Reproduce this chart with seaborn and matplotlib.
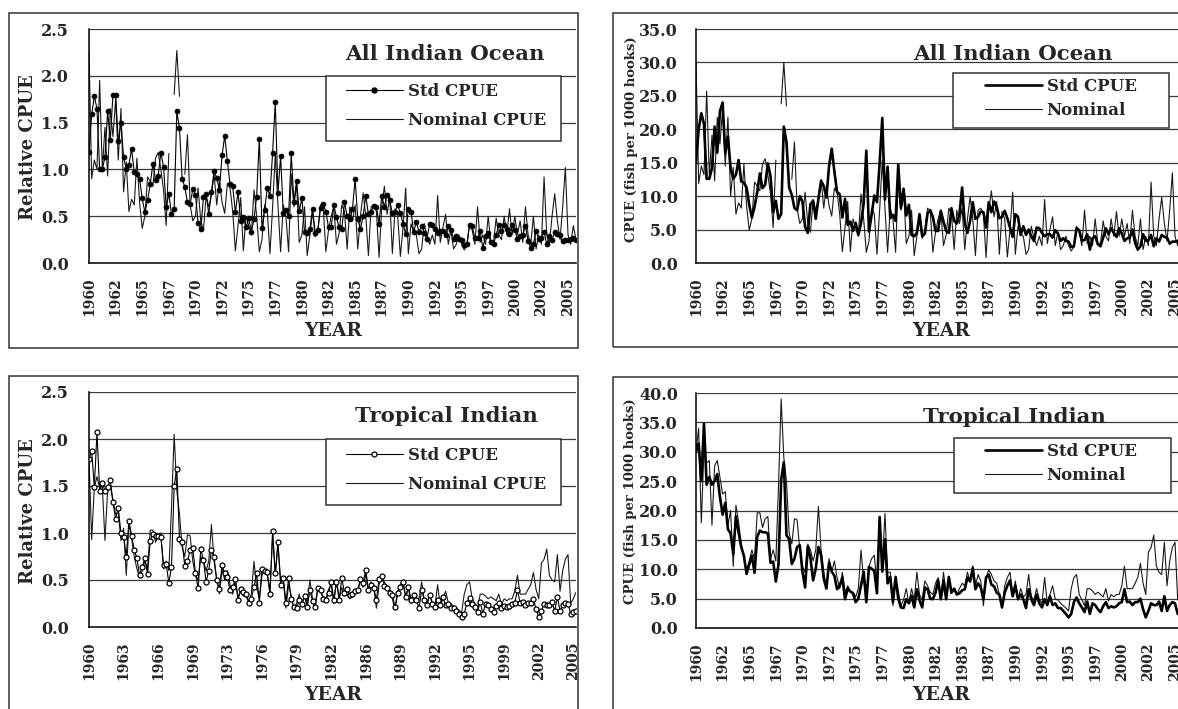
import numpy as np
import pandas as pd
import matplotlib
matplotlib.use("Agg")
import matplotlib.pyplot as plt
import seaborn as sns
from matplotlib.lines import Line2D
from matplotlib.patches import Rectangle

# ---------------------------------------------------------------- data
# Quarterly series, 1960 Q1 .. 2005 Q4 (184 quarters); NaN = no data.
nan = np.nan

all_rel_std = [
    1.19, 1.59, 1.78, 1.65, 1.00, 1.00, 1.13, 1.62, 1.31, 1.80, 1.80, 1.30,
    1.50, 1.13, 1.00, 1.05, 1.22, 0.97, 0.95, 0.90, 0.69, 0.54, 0.67, 0.84,
    1.06, 0.89, 0.93, 1.18, 1.03, 0.60, 0.74, 0.52, 0.58, 1.62, 1.44, 0.90,
    0.81, 0.65, 0.63, 0.79, 0.73, 0.43, 0.36, 0.70, 0.74, 0.52, 0.76, 0.98,
    0.91, 0.78, 1.15, 1.36, 1.09, 0.84, 0.82, 0.54, 0.76, 0.45, 0.49, 0.38,
    0.48, 0.33, 0.47, 0.71, 1.33, 0.37, 0.57, 0.80, 0.72, 1.18, 1.72, 0.75,
    1.14, 0.53, 0.57, 0.50, 1.17, 0.65, 0.88, 0.56, 0.69, 0.33, 0.32, 0.36,
    0.58, 0.32, 0.35, 0.59, 0.63, 0.55, 0.38, 0.38, 0.62, 0.49, 0.38, 0.36,
    0.65, 0.50, 0.47, 0.58, 0.90, 0.47, 0.36, 0.50, 0.72, 0.52, 0.55, 0.61,
    0.60, 0.42, 0.72, 0.60, 0.73, 0.67, 0.53, 0.55, 0.62, 0.53, 0.42, 0.31,
    0.58, 0.55, 0.33, 0.44, 0.33, 0.40, 0.32, 0.26, 0.42, 0.41, 0.36, 0.32,
    0.34, 0.34, 0.30, 0.39, 0.35, 0.26, 0.29, 0.26, 0.25, 0.19, 0.20, 0.41,
    0.39, 0.27, 0.27, 0.34, 0.16, 0.29, 0.32, 0.22, 0.20, 0.30, 0.41, 0.34,
    0.41, 0.36, 0.31, 0.41, 0.35, 0.26, 0.29, 0.30, 0.40, 0.24, 0.16, 0.20,
    0.34, 0.26, 0.27, 0.33, 0.20, 0.29, 0.25, 0.33, 0.31, 0.30, 0.23, 0.25,
    0.25, 0.26, 0.27, 0.25,
]

all_rel_nominal = [
    2.27, 0.90, 1.10, 1.00, 1.95, 1.00, 1.45, 0.93, 1.65, 1.35, 1.75, 1.10,
    1.65, 0.76, 1.08, 0.55, 0.68, 0.62, 1.12, 0.65, 0.37, 0.50, 0.92, 0.87,
    0.82, 1.12, 1.18, 1.00, 0.78, 0.40, 1.17, nan, 1.80, 2.27, 1.78, nan,
    0.95, 1.37, 0.62, 0.45, 0.50, 0.80, 0.45, 0.35, 0.72, 0.60, 0.72, 0.95,
    0.62, 0.87, 0.65, 0.53, 0.85, 0.80, 0.55, 0.13, 0.40, 0.70, 0.13, 0.50,
    0.40, 0.30, 0.78, 0.50, 0.12, 0.25, 0.62, 0.55, 0.10, 0.60, 1.17, 0.62,
    0.12, 0.62, 0.50, 0.12, 0.95, 0.60, 0.85, 0.22, 0.30, 0.60, 0.08, 0.30,
    0.55, 0.28, 0.35, 0.62, 0.60, 0.12, 0.35, 0.50, 0.60, 0.20, 0.32, 0.62,
    0.55, 0.15, 0.60, 0.45, 0.62, 0.15, 0.50, 0.75, 0.50, 0.08, 0.60, 0.62,
    0.55, 0.06, 0.60, 0.82, 0.52, 0.70, 0.10, 0.58, 0.50, 0.07, 0.38, 0.80,
    0.10, 0.42, 0.33, 0.30, 0.10, 0.15, 0.42, 0.28, 0.20, 0.30, 0.20, 0.72,
    0.22, 0.38, 0.52, 0.20, 0.35, 0.15, 0.20, 0.30, 0.20, 0.14, 0.18, 0.42,
    0.35, 0.20, 0.60, 0.22, 0.30, 0.20, 0.50, 0.22, 0.22, 0.48, 0.30, 0.25,
    0.50, 0.30, 0.58, 0.30, 0.50, 0.30, 0.45, 0.22, 0.60, 0.30, 0.20, 0.50,
    0.15, 0.30, 0.20, 0.92, 0.30, 0.20, 0.50, 0.74, 0.45, 0.25, 0.60, 1.02,
    0.30, 0.20, 0.40, 0.25,
]

all_abs_std = [
    15.0, 20.0, 22.4, 20.8, 12.6, 12.6, 14.2, 20.4, 16.5, 22.7, 24.0, 16.4,
    18.9, 14.2, 12.6, 13.2, 15.4, 12.2, 12.0, 11.3, 8.7, 6.8, 8.4, 10.6,
    13.4, 11.2, 11.7, 14.9, 13.0, 7.6, 9.3, 6.6, 7.3, 20.4, 18.1, 11.3,
    10.2, 8.2, 7.9, 10.0, 9.2, 5.4, 4.5, 8.8, 9.3, 6.6, 9.6, 12.3,
    11.5, 9.8, 14.5, 17.1, 13.7, 10.6, 10.3, 6.8, 9.6, 5.7, 6.2, 4.8,
    6.0, 4.2, 5.9, 8.9, 16.8, 4.7, 7.2, 10.1, 9.1, 14.9, 21.7, 9.5,
    14.4, 6.7, 7.2, 6.3, 14.7, 8.2, 11.1, 7.1, 8.7, 4.2, 4.0, 4.5,
    7.3, 4.0, 4.4, 7.4, 7.9, 6.9, 4.8, 4.8, 7.8, 6.2, 4.8, 4.5,
    8.2, 6.3, 5.9, 7.3, 11.3, 5.9, 4.5, 6.3, 9.1, 6.6, 6.9, 7.7,
    7.6, 5.3, 9.1, 7.6, 9.2, 8.4, 6.7, 6.9, 7.8, 6.7, 5.3, 3.9,
    7.3, 6.9, 4.2, 5.5, 4.2, 5.0, 4.0, 3.3, 5.3, 5.2, 4.5, 4.0,
    4.3, 4.3, 3.8, 4.9, 4.4, 3.3, 3.7, 3.3, 3.2, 2.4, 2.5, 5.2,
    4.9, 3.4, 3.4, 4.3, 2.0, 3.7, 4.0, 2.8, 2.5, 3.8, 5.2, 4.3,
    5.2, 4.5, 3.9, 5.2, 4.4, 3.3, 3.7, 3.8, 5.0, 3.0, 2.0, 2.5,
    4.3, 3.3, 3.4, 4.2, 2.5, 3.7, 3.2, 4.2, 3.9, 3.8, 2.9, 3.2,
    3.2, 3.3, 3.4, 3.2,
]

all_abs_nominal = [
    30.0, 11.9, 14.5, 13.2, 25.7, 13.2, 19.1, 12.3, 21.8, 17.8, 23.1, 14.5,
    21.8, 10.0, 14.3, 7.3, 9.0, 8.2, 14.8, 8.6, 4.9, 6.6, 12.1, 11.5,
    10.8, 14.8, 15.6, 13.2, 10.3, 5.3, 15.4, nan, 23.8, 30.0, 23.5, nan,
    12.5, 18.1, 8.2, 5.9, 6.6, 10.6, 5.9, 4.6, 9.5, 7.9, 9.5, 12.5,
    8.2, 11.5, 8.6, 7.0, 11.2, 10.6, 7.3, 1.7, 5.3, 9.2, 1.7, 6.6,
    5.3, 4.0, 10.3, 6.6, 1.6, 3.3, 8.2, 7.3, 1.3, 7.9, 15.4, 8.2,
    1.6, 8.2, 6.6, 1.6, 12.5, 7.9, 11.2, 2.9, 4.0, 7.9, 1.1, 4.0,
    7.3, 3.7, 4.6, 8.2, 7.9, 1.6, 4.6, 6.6, 7.9, 2.6, 4.2, 8.2,
    7.3, 2.0, 7.9, 5.9, 8.2, 2.0, 6.6, 9.9, 6.6, 1.1, 7.9, 8.2,
    7.3, 0.8, 7.9, 10.8, 6.9, 9.2, 1.3, 7.7, 6.6, 0.9, 5.0, 10.6,
    1.3, 5.5, 4.4, 4.0, 1.3, 2.0, 5.5, 3.7, 2.6, 4.0, 2.6, 9.5,
    2.9, 5.0, 6.9, 2.6, 4.6, 2.0, 2.6, 4.0, 2.6, 1.8, 2.4, 5.5,
    4.6, 2.6, 7.9, 2.9, 4.0, 2.6, 6.6, 2.9, 2.9, 6.3, 4.0, 3.3,
    6.6, 4.0, 7.7, 4.0, 6.6, 4.0, 5.9, 2.9, 7.9, 4.0, 2.6, 6.6,
    2.0, 4.0, 2.6, 12.1, 4.0, 2.6, 6.6, 9.8, 5.9, 3.3, 7.9, 13.5,
    4.0, 2.6, 5.3, 3.3,
]

trop_rel_std = [
    1.79, 1.87, 1.49, 2.07, 1.45, 1.53, 1.45, 1.49, 1.56, 1.33, 1.15, 1.27,
    1.00, 0.96, 0.75, 1.13, 0.97, 0.82, 0.73, 0.55, 0.64, 0.73, 0.56, 0.92,
    0.99, 0.97, 0.97, 0.96, 0.66, 0.67, 0.47, 0.64, 1.50, 1.68, 0.94, 0.90,
    0.65, 0.70, 0.82, 0.84, 0.57, 0.41, 0.83, 0.71, 0.48, 0.60, 0.82, 0.74,
    0.50, 0.40, 0.66, 0.57, 0.53, 0.39, 0.43, 0.51, 0.29, 0.40, 0.37, 0.35,
    0.26, 0.30, 0.43, 0.57, 0.26, 0.62, 0.60, 0.58, 0.35, 1.02, 0.57, 0.90,
    0.45, 0.52, 0.26, 0.52, 0.30, 0.21, 0.20, 0.29, 0.25, 0.33, 0.21, 0.39,
    0.28, 0.21, 0.41, 0.39, 0.30, 0.29, 0.36, 0.48, 0.29, 0.48, 0.29, 0.52,
    0.36, 0.40, 0.34, 0.35, 0.38, 0.39, 0.51, 0.47, 0.61, 0.39, 0.45, 0.41,
    0.29, 0.51, 0.54, 0.44, 0.42, 0.36, 0.34, 0.21, 0.36, 0.43, 0.48, 0.32,
    0.43, 0.29, 0.34, 0.29, 0.20, 0.39, 0.29, 0.23, 0.34, 0.25, 0.21, 0.29,
    0.23, 0.32, 0.23, 0.25, 0.20, 0.20, 0.17, 0.14, 0.11, 0.14, 0.26, 0.31,
    0.25, 0.21, 0.16, 0.27, 0.14, 0.25, 0.23, 0.19, 0.16, 0.22, 0.26, 0.20,
    0.22, 0.21, 0.22, 0.25, 0.26, 0.39, 0.26, 0.27, 0.23, 0.26, 0.26, 0.30,
    0.19, 0.11, 0.17, 0.25, 0.23, 0.23, 0.27, 0.17, 0.32, 0.17, 0.23, 0.26,
    0.25, 0.14, 0.16, 0.17,
]

trop_rel_nominal = [
    1.80, 0.93, 1.48, 1.60, 1.48, 1.50, 0.92, 1.45, 1.50, 1.35, 1.20, 1.22,
    0.92, 1.05, 0.55, 1.10, 0.95, 0.75, 0.62, 0.52, 0.60, 0.70, 0.62, 1.03,
    1.03, 0.90, 0.98, 1.00, 0.62, 0.70, 0.60, 1.27, 2.05, 1.45, 1.20, 0.85,
    0.75, 0.98, 0.97, 0.70, 0.55, 0.50, 0.75, 0.70, 0.60, 0.70, 1.09, 0.70,
    0.50, 0.35, 0.62, 0.50, 0.60, 0.45, 0.35, 0.50, 0.32, 0.38, 0.33, 0.32,
    0.28, 0.35, 0.70, 0.42, 0.30, 0.55, 0.62, 0.55, 0.38, 0.98, 0.55, 0.88,
    0.50, 0.50, 0.20, 0.45, 0.33, 0.20, 0.25, 0.35, 0.22, 0.35, 0.25, 0.50,
    0.30, 0.25, 0.42, 0.38, 0.32, 0.30, 0.40, 0.45, 0.25, 0.50, 0.30, 0.42,
    0.33, 0.35, 0.30, 0.35, 0.40, 0.38, 0.50, 0.42, 0.56, 0.38, 0.48, 0.42,
    0.20, 0.45, 0.52, 0.48, 0.42, 0.40, 0.30, 0.18, 0.38, 0.45, 0.50, 0.30,
    0.42, 0.25, 0.35, 0.28, 0.30, 0.48, 0.28, 0.25, 0.35, 0.26, 0.22, 0.45,
    0.22, 0.30, 0.38, 0.26, 0.25, 0.22, 0.20, 0.18, 0.15, 0.35, 0.45, 0.48,
    0.30, 0.25, 0.20, 0.35, 0.35, 0.33, 0.30, 0.32, 0.30, 0.28, 0.35, 0.24,
    0.30, 0.28, 0.30, 0.30, 0.38, 0.55, 0.35, 0.35, 0.35, 0.40, 0.45, 0.58,
    0.40, 0.30, 0.68, 0.72, 0.83, 0.55, 0.50, 0.48, 0.77, 0.38, 0.60, 0.72,
    0.77, 0.25, 0.30, 0.37,
]

trop_abs_std = [
    30.1, 31.4, 25.0, 34.8, 24.4, 25.7, 24.4, 25.0, 26.2, 22.3, 19.3, 21.3,
    16.8, 16.1, 12.6, 19.0, 16.3, 13.8, 12.3, 9.2, 10.8, 12.3, 9.4, 15.5,
    16.6, 16.3, 16.3, 16.1, 11.1, 11.3, 7.9, 10.8, 25.2, 28.2, 15.8, 15.1,
    10.9, 11.8, 13.8, 14.1, 9.6, 6.9, 13.9, 11.9, 8.1, 10.1, 13.8, 12.4,
    8.4, 6.7, 11.1, 9.6, 8.9, 6.6, 7.2, 8.6, 4.9, 6.7, 6.2, 5.9,
    4.4, 5.0, 7.2, 9.6, 4.4, 10.4, 10.1, 9.7, 5.9, 18.9, 9.6, 15.1,
    7.6, 8.7, 4.4, 8.7, 5.0, 3.5, 3.4, 4.9, 4.2, 5.5, 3.5, 6.6,
    4.7, 3.5, 6.9, 6.6, 5.0, 4.9, 6.0, 8.1, 4.9, 8.1, 4.9, 8.7,
    6.0, 6.7, 5.7, 5.9, 6.4, 6.6, 8.6, 7.9, 10.2, 6.6, 7.6, 6.9,
    4.9, 8.6, 9.1, 7.4, 7.1, 6.0, 5.7, 3.5, 6.0, 7.2, 8.1, 5.4,
    7.2, 4.9, 5.7, 4.9, 3.4, 6.6, 4.9, 3.9, 5.7, 4.2, 3.5, 4.9,
    3.9, 5.4, 3.9, 4.2, 3.4, 3.4, 2.9, 2.4, 1.8, 2.4, 4.4, 5.2,
    4.2, 3.5, 2.7, 4.5, 2.4, 4.2, 3.9, 3.2, 2.7, 3.7, 4.4, 3.4,
    3.7, 3.5, 3.7, 4.2, 4.4, 6.6, 4.4, 4.5, 3.9, 4.4, 4.4, 5.0,
    3.2, 1.8, 2.9, 4.2, 3.9, 3.9, 4.5, 2.9, 5.4, 2.9, 3.9, 4.4,
    4.2, 2.4, 2.7, 2.9,
]

trop_abs_nominal = [
    30.0, 34.0, 17.9, 30.4, 28.1, 28.5, 17.5, 27.6, 28.5, 25.7, 22.8, 23.2,
    17.5, 20.0, 10.5, 20.9, 18.1, 14.3, 11.8, 9.9, 11.4, 13.3, 11.8, 19.6,
    19.6, 17.1, 18.6, 19.0, 11.8, 13.3, 11.4, 24.1, 39.0, 29.0, 25.0, 16.2,
    14.3, 18.6, 18.4, 13.3, 10.5, 9.5, 14.3, 13.3, 11.4, 13.3, 20.7, 13.3,
    9.5, 6.7, 11.8, 9.5, 11.4, 8.6, 6.7, 9.5, 6.1, 7.2, 6.3, 6.1,
    5.3, 6.7, 13.3, 8.0, 5.7, 10.5, 11.8, 12.4, 7.2, 18.6, 10.5, 19.5,
    9.5, 9.5, 3.8, 8.6, 6.3, 3.8, 4.8, 6.7, 4.2, 6.7, 4.8, 9.5,
    5.7, 4.8, 8.0, 7.2, 6.1, 5.7, 7.6, 8.6, 4.8, 9.5, 5.7, 8.0,
    6.3, 6.7, 5.7, 6.7, 7.6, 7.2, 9.5, 8.0, 10.6, 7.2, 9.1, 8.0,
    3.8, 8.6, 9.9, 9.1, 8.0, 7.6, 5.7, 3.4, 7.2, 8.6, 9.5, 5.7,
    8.0, 4.8, 6.7, 5.3, 5.7, 9.1, 5.3, 4.8, 6.7, 4.9, 4.2, 8.6,
    4.2, 5.7, 7.2, 4.9, 4.8, 4.2, 3.8, 3.4, 2.9, 6.7, 8.6, 9.1,
    5.7, 4.8, 3.8, 6.7, 6.7, 6.3, 5.7, 6.1, 5.7, 5.3, 6.7, 4.6,
    5.7, 5.3, 5.7, 5.7, 7.2, 10.5, 6.7, 6.7, 6.7, 7.6, 8.6, 11.0,
    7.6, 5.7, 12.9, 13.7, 15.8, 10.5, 9.5, 9.1, 14.6, 7.2, 11.4, 13.7,
    14.6, 4.8, 5.7, 7.0,
]

# Year labels shown under the quarterly category axis
labels_every_10q = ["1960", "1962", "1965", "1967", "1970", "1972", "1975",
                    "1977", "1980", "1982", "1985", "1987", "1990", "1992",
                    "1995", "1997", "2000", "2002", "2005"]
labels_every_13q = ["1960", "1963", "1966", "1969", "1973", "1976", "1979",
                    "1982", "1986", "1989", "1992", "1995", "1999", "2002",
                    "2005"]

quarter = np.arange(len(all_rel_std))

# ---------------------------------------------------------------- style
sns.set_theme(style="white")
plt.rcParams["font.family"] = ["DejaVu Serif"]
plt.rcParams["font.weight"] = "bold"
plt.rcParams["axes.labelweight"] = "bold"

W, H = 1178, 709
fig = plt.figure(figsize=(W / 100, H / 100), dpi=100, facecolor="white")


def fx(x):
    return x / W


def fy(y):
    return 1 - y / H


def add_axes_px(x0, y0, x1, y1):
    return fig.add_axes([fx(x0), fy(y1), (x1 - x0) / W, (y1 - y0) / H])


def draw_series(ax, values, **kw):
    v = np.asarray(values, dtype=float)
    df = pd.DataFrame({"q": quarter, "v": v, "seg": np.cumsum(np.isnan(v))})
    df = df.dropna()
    sns.lineplot(data=df, x="q", y="v", units="seg", estimator=None,
                 ax=ax, legend=False, sort=True, **kw)


def frame_px(x0, y0, x1, y1):
    fig.add_artist(Rectangle((fx(x0), fy(y1)), (x1 - x0) / W, (y1 - y0) / H,
                             transform=fig.transFigure, fill=False,
                             ec="#333333", lw=1.1, zorder=1))


def legend_px(box, anchor, handles, labels, spacing):
    x0, y0, x1, y1 = box
    fig.add_artist(Rectangle((fx(x0), fy(y1)), (x1 - x0) / W, (y1 - y0) / H,
                             transform=fig.transFigure, fc="white",
                             ec="#333333", lw=1.1, zorder=4))
    leg = fig.legend(handles, labels, loc="upper left",
                     bbox_to_anchor=(fx(anchor[0]), fy(anchor[1])),
                     frameon=False, fontsize=12, handlelength=3.4,
                     handletextpad=0.3, labelspacing=spacing,
                     borderpad=0, borderaxespad=0, numpoints=1)
    leg.set_zorder(6)


def style_axes(ax, ymax, ystep, tick_pos, tick_labels, minor_pos, ypad):
    ax.set_xlim(0, len(quarter) - 1)
    ax.set_ylim(0, ymax)
    yt = np.arange(0, ymax + ystep / 2, ystep)
    ax.set_yticks(yt)
    ax.set_yticklabels([f"{t:.1f}" for t in yt])
    ax.set_xticks(tick_pos)
    ax.set_xticklabels(tick_labels, rotation=90)
    ax.set_xticks(minor_pos, minor=True)
    ax.set_xlabel("")
    ax.set_ylabel("")
    ax.set_facecolor("white")
    ax.set_axisbelow(True)
    ax.yaxis.grid(True, color="#3a3a3a", lw=0.9)
    ax.xaxis.grid(False)
    for s in ("top", "right"):
        ax.spines[s].set_visible(False)
    for s in ("left", "bottom"):
        ax.spines[s].set_color("black")
        ax.spines[s].set_linewidth(1.1)
    ax.tick_params(axis="x", which="both", direction="in", length=4,
                   width=0.8, color="black", labelsize=10, pad=10.5)
    ax.tick_params(axis="y", length=0, labelsize=11.5, pad=ypad)


# ---------------------------------------------------------------- panels
major10 = np.arange(0, len(quarter), 10)
minor5 = np.arange(5, len(quarter), 10)
major13 = np.arange(0, len(quarter), 13)
minor1 = np.arange(len(quarter))

# All Indian Ocean, relative CPUE
ax1 = add_axes_px(89, 29, 576, 263)
draw_series(ax1, all_rel_nominal, color="#1a1a1a", lw=0.8)
draw_series(ax1, all_rel_std, color="black", lw=0.8, marker="o",
            markersize=3.6, markerfacecolor="black",
            markeredgecolor="black", markeredgewidth=0.5)
style_axes(ax1, 2.5, 0.5, major10, labels_every_10q, minor5, 14.5)

# All Indian Ocean, CPUE in fish per 1000 hooks
ax2 = add_axes_px(696, 29, 1183, 263)
draw_series(ax2, all_abs_nominal, color="#1a1a1a", lw=0.8)
draw_series(ax2, all_abs_std, color="black", lw=1.9)
style_axes(ax2, 35, 5, major10, labels_every_10q, minor5, 13)

# Tropical Indian, relative CPUE
ax3 = add_axes_px(89, 392, 576, 627)
draw_series(ax3, trop_rel_nominal, color="#1a1a1a", lw=0.8)
draw_series(ax3, trop_rel_std, color="black", lw=0.8, marker="o",
            markersize=3.6, markerfacecolor="white",
            markeredgecolor="black", markeredgewidth=0.9)
style_axes(ax3, 2.5, 0.5, major13, labels_every_13q, minor1, 14.5)
ax3.tick_params(axis="x", which="minor", length=3.5, width=0.6)

# Tropical Indian, CPUE in fish per 1000 hooks
ax4 = add_axes_px(696, 393, 1183, 628)
draw_series(ax4, trop_abs_nominal, color="#1a1a1a", lw=0.8)
draw_series(ax4, trop_abs_std, color="black", lw=1.9)
style_axes(ax4, 40, 5, major10, labels_every_10q, minor5, 13)

# ---------------------------------------------------------------- frames
frame_px(9, 13, 578, 348)
frame_px(613, 13, 1400, 347)
frame_px(9, 376, 578, 760)
frame_px(613, 377, 1400, 760)

# ---------------------------------------------------------------- text
title_kw = dict(ha="center", va="baseline", fontsize=15.3, fontweight="bold",
                zorder=5)
fig.text(fx(445), fy(60), "All Indian Ocean", **title_kw)
fig.text(fx(1013), fy(60), "All Indian Ocean", **title_kw)
fig.text(fx(446), fy(422), "Tropical Indian", **title_kw)
fig.text(fx(1014), fy(423), "Tropical Indian", **title_kw)

year_kw = dict(ha="center", va="center", fontsize=13.5, fontweight="bold")
for x, y in [(333, 331), (941, 331), (333, 695), (941, 695)]:
    fig.text(fx(x), fy(y), "YEAR", **year_kw)

fig.text(fx(28), fy(147), "Relative CPUE", rotation=90, ha="center",
         va="center", fontsize=13, fontweight="bold")
fig.text(fx(28), fy(511), "Relative CPUE", rotation=90, ha="center",
         va="center", fontsize=13, fontweight="bold")
fig.text(fx(631), fy(139), "CPUE (fish per 1000 hooks)", rotation=90,
         ha="center", va="center", fontsize=9.5, fontweight="bold")
fig.text(fx(630), fy(501), "CPUE (fish per 1000 hooks)", rotation=90,
         ha="center", va="center", fontsize=9.5, fontweight="bold")

# ---------------------------------------------------------------- legends
std_dot = Line2D([], [], color="black", lw=0.8, marker="o", markersize=3.6,
                 markerfacecolor="black", markeredgecolor="black")
std_ring = Line2D([], [], color="black", lw=0.8, marker="o", markersize=3.6,
                  markerfacecolor="white", markeredgecolor="black",
                  markeredgewidth=0.9)
nominal_thin = Line2D([], [], color="#1a1a1a", lw=0.8)
std_thick = Line2D([], [], color="black", lw=1.9)

legend_px((326, 76, 561, 141), (346, 83), [std_dot, nominal_thin],
          ["Std CPUE", "Nominal CPUE"], 0.72)
legend_px((326, 439, 561, 505), (346, 447), [std_ring, nominal_thin],
          ["Std CPUE", "Nominal CPUE"], 0.72)
legend_px((953, 73, 1169, 128), (985, 78), [std_thick, nominal_thin],
          ["Std CPUE", "Nominal"], 0.42)
legend_px((954, 438, 1171, 493), (985, 443), [std_thick, nominal_thin],
          ["Std CPUE", "Nominal"], 0.42)

fig.savefig("out.png", dpi=100, facecolor="white")
